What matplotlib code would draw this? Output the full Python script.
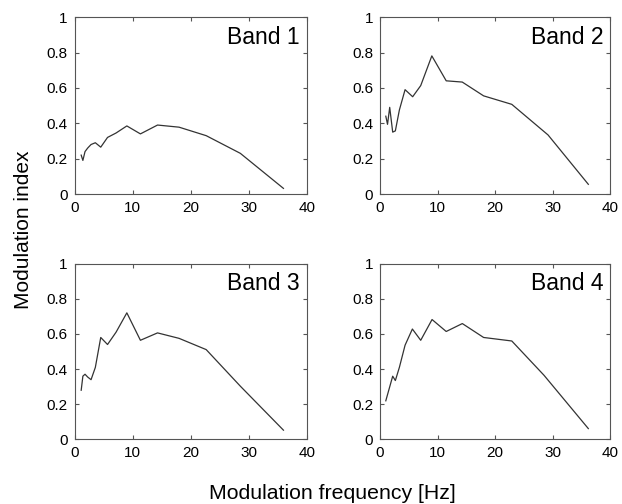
'''
Modulation index vs modulation frequency, four bands
'''
import matplotlib
matplotlib.use('Agg')
import matplotlib.pyplot as plt

plt.rcParams['font.family'] = ['Liberation Sans', 'DejaVu Sans']

# third-octave modulation frequencies (Hz)
freq_a = [1.13, 1.42, 1.79, 2.25, 2.83, 3.57, 4.5, 5.67, 7.14, 9.0, 11.34, 14.29, 18.0, 22.68, 28.57, 36.0]
freq_b = [1.0, 1.3, 1.68, 2.2, 2.66, 3.36, 4.35, 5.67, 7.07, 9.0, 11.5, 14.29, 18.0, 22.9, 29.2, 36.2]
freq_4 = [1.0, 1.6, 2.2, 2.66, 3.36, 4.35, 5.62, 7.07, 9.04, 11.5, 14.3, 18.0, 22.9, 28.5, 36.2]

band1 = [0.22, 0.19, 0.24, 0.26, 0.28, 0.29, 0.265, 0.32, 0.345, 0.385, 0.34, 0.39, 0.378, 0.33, 0.23, 0.032]
band2 = [0.44, 0.394, 0.49, 0.35, 0.357, 0.475, 0.59, 0.55, 0.613, 0.781, 0.64, 0.633, 0.555, 0.507, 0.334, 0.055]
band3 = [0.28, 0.36, 0.371, 0.355, 0.34, 0.41, 0.58, 0.54, 0.61, 0.72, 0.564, 0.606, 0.575, 0.511, 0.303, 0.053]
band4 = [0.22, 0.29, 0.36, 0.335, 0.41, 0.536, 0.628, 0.564, 0.682, 0.614, 0.659, 0.58, 0.56, 0.365, 0.062]

panels = [
    ('Band 1', freq_a, band1, [0.120, 0.615, 0.373, 0.351]),
    ('Band 2', freq_b, band2, [0.611, 0.615, 0.370, 0.351]),
    ('Band 3', freq_a, band3, [0.120, 0.128, 0.373, 0.349]),
    ('Band 4', freq_4, band4, [0.611, 0.128, 0.370, 0.349]),
]

fig = plt.figure(figsize=(6.22, 5.04), dpi=100)

for name, f, m, rect in panels:
    ax = fig.add_axes(rect)
    ax.plot(f, m, color='#333333', lw=0.9)
    ax.set_xlim(0, 40)
    ax.set_ylim(0, 1)
    ax.set_xticks([0, 10, 20, 30, 40])
    ax.set_yticks([0, 0.2, 0.4, 0.6, 0.8, 1])
    ax.set_yticklabels(['0', '0.2', '0.4', '0.6', '0.8', '1'])
    ax.tick_params(direction='in', length=3, top=True, right=True, labelsize=11,
                   color='#555555', pad=5)
    for s in ax.spines.values():
        s.set_color('#555555')
        s.set_linewidth(0.8)
    ax.text(0.97, 0.95, name, transform=ax.transAxes, ha='right', va='top', fontsize=16.5)

fig.text(0.037, 0.545, 'Modulation index', rotation=90, ha='center', va='center', fontsize=15)
fig.text(0.535, 0.02, 'Modulation frequency [Hz]', ha='center', va='center', fontsize=15.3)

fig.savefig('out.png', dpi=100)
